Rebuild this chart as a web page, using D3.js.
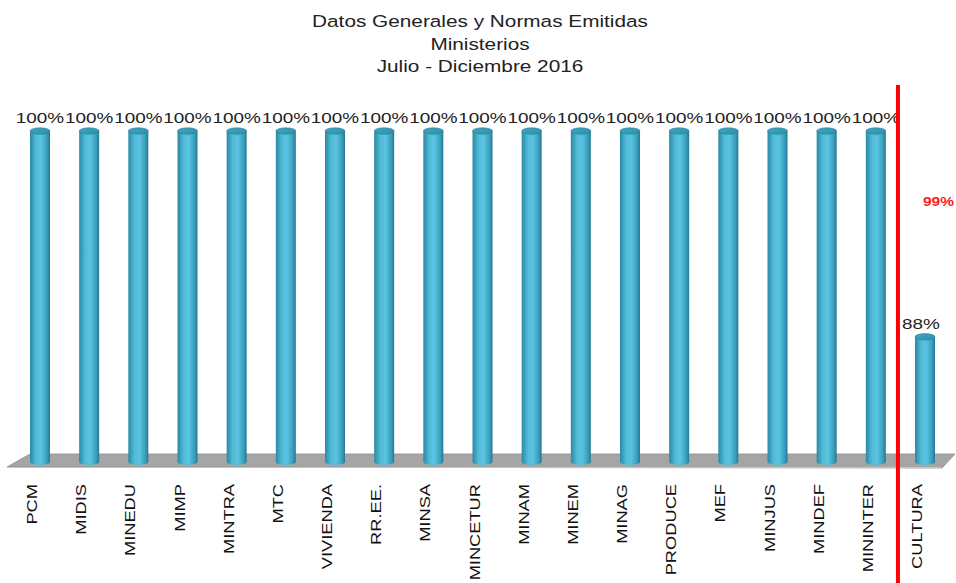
<!DOCTYPE html>
<html><head><meta charset="utf-8">
<script src="https://cdn.jsdelivr.net/npm/d3@7"></script>
<style>body{margin:0;background:#fff}svg{display:block}</style>
</head><body>
<script>
const categories = ["PCM","MIDIS","MINEDU","MIMP","MINTRA","MTC","VIVIENDA","RR.EE.","MINSA","MINCETUR","MINAM","MINEM","MINAG","PRODUCE","MEF","MINJUS","MINDEF","MININTER","CULTURA"];
const values = [1,1,1,1,1,1,1,1,1,1,1,1,1,1,1,1,1,1,0.88];
const valueLabels = ["100%","100%","100%","100%","100%","100%","100%","100%","100%","100%","100%","100%","100%","100%","100%","100%","100%","100%","88%"];
const titleLines = ["Datos Generales y Normas Emitidas","Ministerios","Julio - Diciembre 2016"];
const averageValue = 0.99;
const averageLabel = "99%";

const W = 956, H = 583;
const svg = d3.select("body").append("svg").attr("width", W).attr("height", H);
const font = "'Liberation Sans', Arial, sans-serif";
const stretch = 1.26;

const defs = svg.append("defs");
const g = defs.append("linearGradient").attr("id","cyl").attr("x1","0").attr("x2","1").attr("y1","0").attr("y2","0");
g.append("stop").attr("offset","0").attr("stop-color","#2a88a4");
g.append("stop").attr("offset","0.3").attr("stop-color","#50bad7");
g.append("stop").attr("offset","0.55").attr("stop-color","#5bc5e1");
g.append("stop").attr("offset","0.85").attr("stop-color","#399ebb");
g.append("stop").attr("offset","1").attr("stop-color","#247892");
const gt = defs.append("linearGradient").attr("id","cyltop").attr("x1","0").attr("x2","1").attr("y1","0").attr("y2","1");
gt.append("stop").attr("offset","0").attr("stop-color","#3fa6c3");
gt.append("stop").attr("offset","1").attr("stop-color","#2f8eab");

const x = d3.scalePoint().domain(categories).range([40, 925]);
const step = x.step();
const y = d3.scaleLinear().domain([0.8, 1]).range([474, 131]);
const floorY = 462;
const bw = 20;

// Title
svg.append("g").selectAll("text").data(titleLines).join("text")
  .attr("transform", (d,i)=> `translate(480,${27 + i*22.5}) scale(${stretch},1)`)
  .attr("text-anchor","middle").attr("font-family",font).attr("font-size",16.5)
  .attr("fill","#222").text(d=>d);

// Floor
svg.append("path")
  .attr("d", `M7,467 L30,454 L955,454 L942,468 Z`)
  .attr("fill","#a5a5a5").attr("stroke","#8e8e8e").attr("stroke-width",0.8);
svg.append("line").attr("x1",8).attr("x2",941).attr("y1",467.5).attr("y2",467.5).attr("stroke","#c4c4c4").attr("stroke-width",1);

// Bars
const bars = svg.append("g").selectAll("g").data(categories).join("g");
bars.append("path")
  .attr("d", (c,i) => {
    const cx = x(c), top = y(values[i]);
    const l = cx - bw/2, r = cx + bw/2;
    return `M${l},${top} L${l},${floorY} A${bw/2},3 0 0 0 ${r},${floorY} L${r},${top} Z`;
  })
  .attr("fill","url(#cyl)");
bars.append("ellipse")
  .attr("cx", c => x(c)).attr("cy", (c,i)=> y(values[i]))
  .attr("rx", bw/2).attr("ry", 3.2)
  .attr("fill","url(#cyltop)").attr("stroke","#2a7f99").attr("stroke-width",0.6);

// Value labels
svg.append("g").selectAll("text").data(categories).join("text")
  .attr("transform", (c,i)=> `translate(${x(c) + (i===categories.length-1 ? -4 : 0)},${y(values[i]) - 8}) scale(${stretch},1)`)
  .attr("text-anchor","middle").attr("font-family",font).attr("font-size",15)
  .attr("fill","#222").text((c,i)=>valueLabels[i]);

// Category labels
svg.append("g").selectAll("text").data(categories).join("text")
  .attr("transform", c => `translate(${x(c)-3},484) rotate(-90) scale(${stretch},1)`)
  .attr("text-anchor","end").attr("font-family",font).attr("font-size",14.5)
  .attr("fill","#111").text(c=>c);

// Average line
const lineX = x(categories[categories.length-2]) + step*0.45;
svg.append("line").attr("x1",lineX).attr("x2",lineX).attr("y1",85).attr("y2",H)
  .attr("stroke","#ff0000").attr("stroke-width",4);
svg.append("text").attr("transform", `translate(923,206) scale(1.15,1)`)
  .attr("font-family",font).attr("font-size",13.5).attr("font-weight","bold")
  .attr("fill","#ff2020").text(averageLabel);
</script>
</body></html>
